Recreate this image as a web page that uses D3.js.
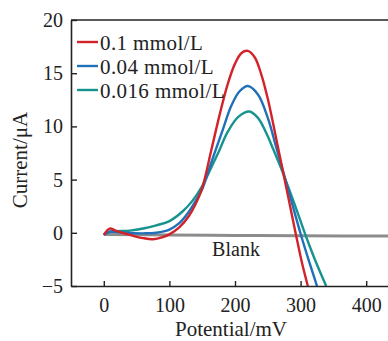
<!DOCTYPE html>
<html>
<head>
<meta charset="utf-8">
<script src="https://cdn.jsdelivr.net/npm/d3@7"></script>
<style>
  body { margin: 0; background: #fff; }
  svg text { font-family: "Liberation Serif", "DejaVu Serif", serif; fill: #222; }
</style>
</head>
<body>
<svg width="388" height="341"></svg>
<script>
// series data: [potential mV, current uA]
var red = [[0,-0.2],[9,0.4],[20,0.15],[40,-0.2],[60,-0.5],[75,-0.6],[90,-0.4],[100,-0.15],[115,0.5],[130,1.6],[140,2.7],[150,4.2],[164,7.8],[177,11.2],[189,14.0],[200,15.9],[210,16.9],[219.5,17.1],[230,16.5],[240,14.9],[250,12.6],[260,9.7],[270,6.7],[281,3.4],[293,-0.2],[302,-2.8],[311,-5]];
var blue = [[0,-0.2],[8,0.1],[30,0.0],[60,-0.05],[80,0.0],[100,0.3],[115,0.9],[130,2.0],[140,3.0],[150,4.1],[160,5.9],[170,7.7],[182,9.8],[194,11.9],[207,13.3],[219.5,13.8],[235,13.0],[250,10.8],[263,8.0],[270,6.5],[285,3.2],[301,-0.3],[313,-2.7],[325,-5]];
var teal = [[0,-0.15],[10,0.1],[40,0.2],[60,0.4],[80,0.7],[100,1.1],[120,2.0],[135,3.0],[150,4.4],[162,5.9],[175,7.6],[189,9.5],[205,10.9],[222,11.4],[235,10.8],[247.5,9.4],[258,7.9],[270,6.1],[289,3.0],[308,-0.3],[323,-2.7],[339,-5]];
var blank = [[0,-0.15],[100,-0.2],[200,-0.25],[300,-0.28],[450,-0.3]];

var seriesNames = ['0.1 mmol/L', '0.04 mmol/L', '0.016 mmol/L'];
var seriesColors = ['#d2232a', '#1f70b8', '#17938f'];
var xTicks = [0, 100, 200, 300, 400];
var yTicks = [-5, 0, 5, 10, 15, 20];

var svg = d3.select('svg');

var x = d3.scaleLinear().domain([-50, 450]).range([71, 399]);
var y = d3.scaleLinear().domain([-5, 20]).range([286, 20]);

// clip to plot area
svg.append('clipPath').attr('id', 'clip')
  .append('rect').attr('x', 71).attr('y', 20).attr('width', 330).attr('height', 266);

var line = d3.line()
  .x(function (d) { return x(d[0]); })
  .y(function (d) { return y(d[1]); })
  .curve(d3.curveCatmullRom.alpha(0.5));

var plot = svg.append('g').attr('clip-path', 'url(#clip)');

// blank line (grey)
plot.append('path')
  .datum(blank)
  .attr('d', line)
  .attr('fill', 'none')
  .attr('stroke', '#8c8c8c')
  .attr('stroke-width', 3);

[teal, blue, red].forEach(function (s, i) {
  plot.append('path')
    .datum(s)
    .attr('d', line)
    .attr('fill', 'none')
    .attr('stroke', seriesColors[2 - i])
    .attr('stroke-width', 2.4);
});

// x axis (ticks inside)
var xAxis = d3.axisBottom(x).tickValues(xTicks).tickSizeInner(-5).tickSizeOuter(0).tickPadding(12);
var gx = svg.append('g').attr('transform', 'translate(0,286)').call(xAxis);
gx.select('.domain').attr('stroke', '#222').attr('stroke-width', 1.6);
gx.selectAll('.tick line').attr('stroke', '#222').attr('stroke-width', 1.4);
gx.selectAll('text').style('font-size', '20px').attr('fill', '#222');

// y axis (ticks inside)
var yAxis = d3.axisLeft(y).tickValues(yTicks).tickSizeInner(-6).tickSizeOuter(0).tickPadding(8);
var gy = svg.append('g').attr('transform', 'translate(71,0)').call(yAxis);
gy.select('.domain').attr('stroke', '#222').attr('stroke-width', 1.6);
gy.selectAll('.tick line').attr('stroke', '#222').attr('stroke-width', 1.4);
gy.selectAll('text').style('font-size', '20px').attr('fill', '#222');

// top frame
svg.append('line')
  .attr('x1', 71).attr('x2', 388).attr('y1', 20).attr('y2', 20)
  .attr('stroke', '#222').attr('stroke-width', 1.6);

// axis titles
svg.append('text')
  .attr('x', 231).attr('y', 336)
  .attr('text-anchor', 'middle')
  .style('font-size', '21px')
  .text('Potential/mV');

svg.append('text')
  .attr('transform', 'translate(27,160) rotate(-90)')
  .attr('text-anchor', 'middle')
  .style('font-size', '21px')
  .text('Current/μA');

// legend
var legend = svg.append('g');
seriesNames.forEach(function (name, i) {
  var ly = 42 + i * 24;
  legend.append('line')
    .attr('x1', 77).attr('x2', 98).attr('y1', ly).attr('y2', ly)
    .attr('stroke', seriesColors[i]).attr('stroke-width', 2.4);
  legend.append('text')
    .attr('x', 100).attr('y', ly + 7.5)
    .style('font-size', '21px')
    .style('letter-spacing', '0.4px')
    .text(name);
});

svg.append('text')
  .attr('x', 236).attr('y', 256)
  .attr('text-anchor', 'middle')
  .style('font-size', '20px')
  .text('Blank');
</script>
</body>
</html>
